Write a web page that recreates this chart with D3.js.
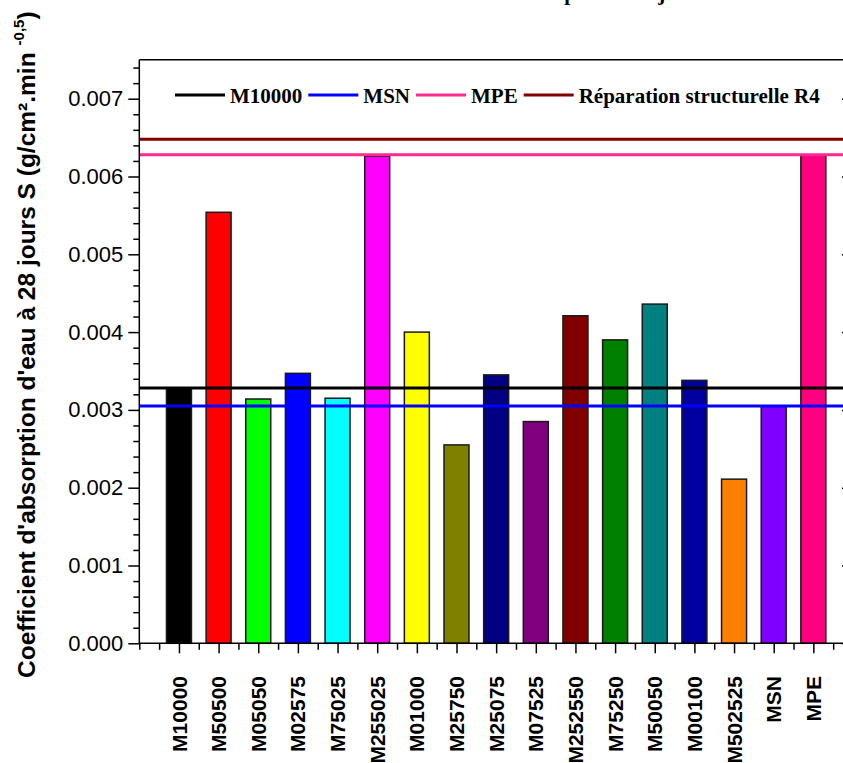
<!DOCTYPE html>
<html><head><meta charset="utf-8">
<script src="https://cdn.jsdelivr.net/npm/d3@7"></script>
<style>body{margin:0;background:#fff} svg{display:block}</style>
</head><body>
<svg id="chart" width="843" height="763"></svg>
<script>
// ---- data ----
const categories = ["M10000","M50500","M05050","M02575","M75025","M255025","M01000","M25750","M25075","M07525","M252550","M75250","M50050","M00100","M502525","MSN","MPE"];
const values = [0.00328,0.00554,0.00314,0.00347,0.00315,0.00626,0.00400,0.00255,0.00345,0.00285,0.00421,0.00390,0.00436,0.00338,0.00211,0.00305,0.00628];
const barColors = ["#000000","#ff0000","#00ff00","#0000ff","#00ffff","#ff00ff","#ffff00","#808000","#000080","#800080","#800000","#008000","#008080","#0000a0","#ff8000","#8000ff","#ff0080"];
const refNames = ["M10000","MSN","MPE","Réparation structurelle R4"];
const refValues = [0.00328,0.00305,0.00628,0.00648];
const refColors = ["#000000","#0000ff","#ff2a8f","#800000"];
const yTicks = [0,0.001,0.002,0.003,0.004,0.005,0.006,0.007];
const yTickLabels = ["0.000","0.001","0.002","0.003","0.004","0.005","0.006","0.007"];
const yMinorTicks = d3.range(0,38).map(i=>i*0.0002).filter(v=>Math.abs(v*1000-Math.round(v*1000))>1e-6);
const yLabel = "Coefficient d'absorption d'eau à 28 jours S (g/cm².min";
const yLabelSup = "-0,5";
const titleText = "Coefficient d'absorption à 28 jours";

// ---- layout ----
const svg = d3.select("#chart");
const sans = "'Liberation Sans', Arial, sans-serif";
const serif = "'Liberation Serif', 'Times New Roman', serif";
const x = d3.scaleLinear().domain([0, 18]).range([139.3, 853]);
const y = d3.scaleLinear().domain([0, 0.0075]).range([643.3, 643.3 - 7.5*77.8]);
const bw = (x(1)-x(0))*0.63;

// partially visible title (clipped at top, as in the reference)
const title = svg.append("text").attr("y", 0)
  .style("font-family", serif).style("font-weight","bold").style("font-size","21px")
  .text(titleText);
const pIdx = titleText.indexOf("absorption") + 4;
const off = title.node().getSubStringLength(0, pIdx);
title.attr("x", 555 - off);

// bars
svg.append("g").selectAll("rect").data(values).join("rect")
  .attr("x", (d,i)=>x(i+1)-bw/2)
  .attr("y", d=>y(d))
  .attr("width", bw)
  .attr("height", d=>y(0)-y(d))
  .attr("fill", (d,i)=>barColors[i])
  .attr("stroke", "#1a1a1a").attr("stroke-width", 1.5);

// reference lines
svg.append("g").selectAll("line").data(refValues).join("line")
  .attr("x1", x(0)).attr("x2", x(18))
  .attr("y1", d=>y(d)).attr("y2", d=>y(d))
  .attr("stroke", (d,i)=>refColors[i]).attr("stroke-width", 3);

// frame top
svg.append("line").attr("x1", x(0)).attr("x2", x(18)).attr("y1", y(0.0075)).attr("y2", y(0.0075))
  .attr("stroke","#000").attr("stroke-width",1.5);

// left axis
const yAxis = svg.append("g").attr("transform",`translate(${x(0)},0)`)
  .call(d3.axisLeft(y).tickValues(yTicks).tickFormat((d,i)=>yTickLabels[i]).tickSize(11).tickPadding(5));
svg.append("g").attr("transform",`translate(${x(0)},0)`)
  .call(d3.axisLeft(y).tickValues(yMinorTicks).tickFormat("").tickSize(6))
  .select(".domain").remove();
yAxis.select(".domain").attr("d", `M0,${y(0.0075)}V${y(0)}`);
// right axis (inward ticks)
const rAxis = svg.append("g").attr("transform",`translate(${x(18)},0)`)
  .call(d3.axisRight(y).tickValues(yTicks).tickFormat("").tickSize(-11));
rAxis.select(".domain").attr("d", `M0,${y(0.0075)}V${y(0)}`);

// bottom axis
const xAxis = svg.append("g").attr("transform",`translate(0,${y(0)})`)
  .call(d3.axisBottom(x).tickValues(d3.range(1,18)).tickFormat("").tickSize(10));
xAxis.select(".domain").attr("d", `M${x(0)},0H${x(18)}`);
svg.append("g").attr("transform",`translate(0,${y(0)})`)
  .call(d3.axisBottom(x).tickValues([0].concat(d3.range(0.5,18,1))).tickFormat("").tickSize(6.5))
  .select(".domain").remove();

svg.selectAll(".domain, .tick line").attr("stroke","#000").attr("stroke-width",1.5);
yAxis.selectAll(".tick text").style("font-family", sans).style("font-size","22px").attr("fill","#000");

// x labels
svg.append("g").selectAll("text").data(categories).join("text")
  .attr("transform",(d,i)=>`translate(${x(i+1)},676) rotate(-90)`)
  .attr("text-anchor","end").attr("dy","0.36em")
  .style("font-family", sans).style("font-weight","bold").style("font-size","21px")
  .text(d=>d);

// y label
const yl = svg.append("text").attr("transform","translate(35,678) rotate(-90)")
  .attr("text-anchor","start")
  .style("font-family", sans).style("font-weight","bold").style("font-size","24.5px");
yl.append("tspan").text(yLabel);
yl.append("tspan").attr("dx", 7).attr("dy", -11).style("font-size","15px").text(yLabelSup);
yl.append("tspan").attr("dy", 11).text(")");

// legend
let lx = 175;
const lg = svg.append("g");
refNames.forEach((n,i)=>{
  lg.append("line").attr("x1",lx).attr("x2",lx+50).attr("y1",95).attr("y2",95)
    .attr("stroke",refColors[i]).attr("stroke-width",3);
  const t = lg.append("text").attr("x",lx+55).attr("y",102.7)
    .style("font-family", serif).style("font-weight","bold").style("font-size","21px").text(n);
  lx = lx + 55 + t.node().getComputedTextLength() + 6;
});
</script>
</body></html>
